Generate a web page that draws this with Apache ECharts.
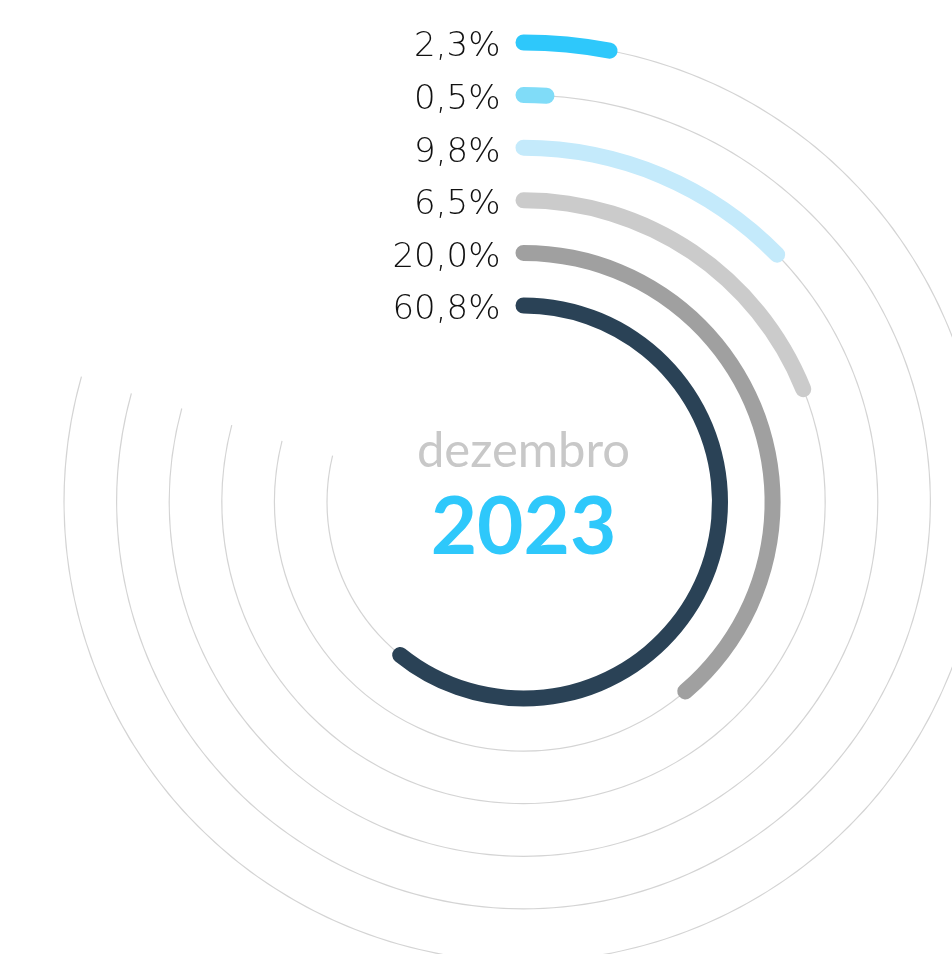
<!DOCTYPE html>
<html>
<head>
<meta charset="utf-8">
<script src="https://cdn.jsdelivr.net/npm/echarts@6/dist/echarts.min.js"></script>
<style>html,body{margin:0;padding:0;background:#fff;}#c{width:952px;height:954px;}</style>
</head>
<body>
<div id="c"></div>
<script>
// rings from innermost to outermost
const categories = ['60,8%', '20,0%', '6,5%', '9,8%', '0,5%', '2,3%'];
// arc length of each ring, in percent of a full turn
const arcValues = [60.8, 38.75, 18.9, 12.7, 0.9, 3.0];
// length of the thin background track of each ring, in percent of a full turn
const trackValues = [78.8, 78.95, 79.1, 79.25, 79.3, 79.4];
const monthLabel = 'dezembro';
const yearLabel = '2023';

const ringColors = ['#2a4256', '#a0a0a0', '#cbcbcb', '#c4eafb', '#80dcf8', '#2ec8fb'];

const chart = echarts.init(document.getElementById('c'), null, {renderer: 'canvas'});
const center = [523.5, 502];
const radius = [170.2, 485.8];
const hiddenAngle = (idx) => ({
  polarIndex: idx, type: 'value', min: 0, max: 100, startAngle: 90, clockwise: true,
  axisLine: {show: false}, axisTick: {show: false}, axisLabel: {show: false}, splitLine: {show: false}
});
chart.setOption({
  animation: false,
  backgroundColor: '#ffffff',
  polar: [{center: center, radius: radius}, {center: center, radius: radius}],
  angleAxis: [hiddenAngle(0), hiddenAngle(1)],
  radiusAxis: [
    {
      polarIndex: 0, type: 'category', data: categories,
      axisLine: {show: false}, axisTick: {show: false}, splitLine: {show: false},
      axisLabel: {
        show: true, interval: 0, hideOverlap: false, margin: 23, align: 'right',
        formatter: '{a|{value}}',
        rich: {
          a: {color: '#111111', fontSize: 34, fontFamily: 'DejaVu Sans', fontWeight: 200,
              padding: [10, 0, 0, 0]}
        }
      },
      z: 5
    },
    {
      polarIndex: 1, type: 'category', data: categories,
      axisLine: {show: false}, axisTick: {show: false}, axisLabel: {show: false}, splitLine: {show: false}
    }
  ],
  series: [
    {
      type: 'bar', coordinateSystem: 'polar', polarIndex: 1,
      data: trackValues, barWidth: 1.2, z: 1,
      itemStyle: {color: '#d4d4d4'}, silent: true
    },
    {
      type: 'bar', coordinateSystem: 'polar', polarIndex: 0,
      data: arcValues.map((v, i) => ({value: v, itemStyle: {color: ringColors[i]}})),
      barWidth: 16, roundCap: true, z: 3
    }
  ],
  graphic: [
    {
      type: 'text', x: center[0], y: 451, z: 10,
      style: {text: monthLabel, fill: '#c8c8c8', fontSize: 49, fontFamily: 'Lato', fontWeight: 400,
              align: 'center', textAlign: 'center', verticalAlign: 'middle', textVerticalAlign: 'middle'}
    },
    {
      type: 'text', x: center[0], y: 528, z: 10,
      style: {text: yearLabel, fill: '#2ec8fb', fontSize: 80, fontFamily: 'Lato', fontWeight: 700,
              align: 'center', textAlign: 'center', verticalAlign: 'middle', textVerticalAlign: 'middle'}
    }
  ]
});
</script>
</body>
</html>
